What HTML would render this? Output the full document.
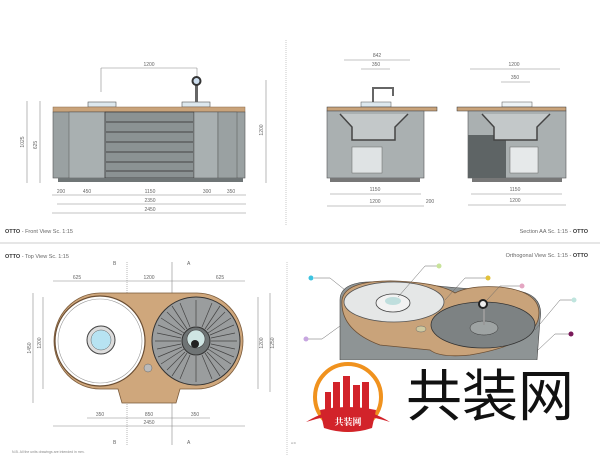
<!DOCTYPE html>
<html><head><meta charset="utf-8"><style>
html,body{margin:0;padding:0;background:#fff;}
svg{display:block;font-family:"Liberation Sans","Noto Sans CJK SC",sans-serif;}
.d{stroke:#888;stroke-width:0.6;fill:none}
.t{font-size:5px;fill:#666}
</style></head><body>
<svg width="600" height="460" viewBox="0 0 600 460" xmlns="http://www.w3.org/2000/svg">
<rect width="600" height="460" fill="#fff"/>
<!-- separators -->
<line x1="0" y1="243" x2="600" y2="243" stroke="#bbb" stroke-width="0.8"/>
<line x1="286" y1="40" x2="286" y2="225" stroke="#bbb" stroke-width="0.8" stroke-dasharray="1,1"/>
<line x1="287" y1="262" x2="287" y2="455" stroke="#bbb" stroke-width="0.8" stroke-dasharray="1,1"/>

<!-- FRONT VIEW -->
<g>
<line class="d" x1="101" y1="68" x2="197" y2="68"/><line class="d" x1="101" y1="68" x2="101" y2="92"/><line class="d" x1="197" y1="68" x2="197" y2="92"/>
<text class="t" x="149" y="66" text-anchor="middle">1200</text>
<rect x="88" y="102" width="28" height="5" fill="#dde8ee" stroke="#555" stroke-width="0.6"/>
<rect x="182" y="102" width="28" height="5" fill="#dde8ee" stroke="#555" stroke-width="0.6"/>
<rect x="195" y="84" width="3" height="18" fill="#666"/>
<circle cx="196.5" cy="81" r="5" fill="#333"/><circle cx="196.5" cy="81" r="3" fill="#cde"/>
<rect x="53" y="107" width="192" height="5" fill="#c9a37a" stroke="#8a6a4a" stroke-width="0.5"/>
<rect x="53" y="112" width="192" height="66" fill="#9aa1a2" stroke="#555" stroke-width="0.6"/>
<rect x="69" y="112" width="36" height="66" fill="#a9b0b1" stroke="#555" stroke-width="0.5"/>
<rect x="105" y="112" width="89" height="66" fill="#8b9293" stroke="#333" stroke-width="0.7"/>
<g stroke="#444" stroke-width="1">
<line x1="106" y1="122" x2="193" y2="122"/><line x1="106" y1="132" x2="193" y2="132"/><line x1="106" y1="142" x2="193" y2="142"/><line x1="106" y1="152" x2="193" y2="152"/><line x1="106" y1="162" x2="193" y2="162"/><line x1="106" y1="171" x2="193" y2="171"/></g>
<rect x="194" y="112" width="24" height="66" fill="#a9b0b1" stroke="#555" stroke-width="0.5"/>
<rect x="218" y="112" width="19" height="66" fill="#9aa1a2" stroke="#555" stroke-width="0.5"/>
<rect x="58" y="178" width="185" height="4" fill="#6f7576"/>
<line class="d" x1="27" y1="101" x2="27" y2="183"/><text class="t" transform="translate(24,142) rotate(-90)" text-anchor="middle">1025</text>
<line class="d" x1="40" y1="101" x2="40" y2="183"/><text class="t" transform="translate(37,145) rotate(-90)" text-anchor="middle">625</text>
<line class="d" x1="266" y1="80" x2="266" y2="183"/><text class="t" transform="translate(263,130) rotate(-90)" text-anchor="middle">1200</text>
<line class="d" x1="52" y1="195" x2="246" y2="195"/>
<text class="t" x="61" y="193" text-anchor="middle">200</text><text class="t" x="87" y="193" text-anchor="middle">450</text><text class="t" x="150" y="193" text-anchor="middle">1150</text><text class="t" x="207" y="193" text-anchor="middle">300</text><text class="t" x="231" y="193" text-anchor="middle">350</text>
<line class="d" x1="57" y1="204" x2="246" y2="204"/><text class="t" x="150" y="202" text-anchor="middle">2350</text>
<line class="d" x1="52" y1="213" x2="246" y2="213"/><text class="t" x="150" y="211" text-anchor="middle">2450</text>
<text x="5" y="233" font-size="5.5" fill="#666"><tspan font-weight="bold" fill="#333">OTTO</tspan> - Front View Sc. 1:15</text>
</g>

<!-- SECTION AA -->
<g>
<line class="d" x1="344" y1="60" x2="410" y2="60"/><text class="t" x="377" y="57" text-anchor="middle">842</text>
<line class="d" x1="361" y1="69" x2="390" y2="69"/><text class="t" x="376" y="66" text-anchor="middle">350</text>
<line class="d" x1="470" y1="69" x2="560" y2="69"/><text class="t" x="514" y="66" text-anchor="middle">1200</text>
<line class="d" x1="501" y1="82" x2="530" y2="82"/><text class="t" x="515" y="79" text-anchor="middle">350</text>
<path d="M373 106 V88 H393 V96" stroke="#666" stroke-width="2" fill="none"/>
<rect x="361" y="102" width="30" height="5" fill="#dde8ee" stroke="#555" stroke-width="0.5"/>
<rect x="502" y="102" width="30" height="5" fill="#eef3f5" stroke="#555" stroke-width="0.5"/>
<rect x="327" y="107" width="110" height="4" fill="#c9a37a" stroke="#333" stroke-width="0.5"/>
<rect x="327" y="111" width="97" height="67" fill="#aab0b1" stroke="#555" stroke-width="0.6"/>
<path d="M340 114 L352 127 V140 H395 V127 L408 114" stroke="#444" stroke-width="1.5" fill="#c3c8c9"/>
<rect x="352" y="147" width="30" height="26" fill="#dfe3e4" stroke="#666" stroke-width="0.5"/>
<rect x="330" y="178" width="90" height="4" fill="#777"/>
<rect x="457" y="107" width="109" height="4" fill="#c9a37a" stroke="#333" stroke-width="0.5"/>
<rect x="468" y="111" width="98" height="67" fill="#aab0b1" stroke="#555" stroke-width="0.6"/>
<rect x="468" y="135" width="38" height="43" fill="#5e6465"/>
<path d="M482 114 L494 127 V140 H537 V127 L550 114" stroke="#444" stroke-width="1.5" fill="#c3c8c9"/>
<rect x="510" y="147" width="28" height="26" fill="#e6e9ea" stroke="#666" stroke-width="0.5"/>
<rect x="472" y="178" width="90" height="4" fill="#777"/>
<line class="d" x1="330" y1="194" x2="421" y2="194"/><text class="t" x="375" y="191" text-anchor="middle">1150</text>
<line class="d" x1="327" y1="206" x2="424" y2="206"/><text class="t" x="375" y="203" text-anchor="middle">1200</text><text class="t" x="430" y="203" text-anchor="middle">200</text>
<line class="d" x1="471" y1="194" x2="562" y2="194"/><text class="t" x="515" y="191" text-anchor="middle">1150</text>
<line class="d" x1="468" y1="205" x2="566" y2="205"/><text class="t" x="515" y="202" text-anchor="middle">1200</text>
<text x="588" y="233" font-size="5.5" fill="#666" text-anchor="end">Section AA Sc. 1:15 - <tspan font-weight="bold" fill="#333">OTTO</tspan></text>
</g>

<!-- TOP VIEW -->
<g>
<text x="5" y="258" font-size="5.5" fill="#666"><tspan font-weight="bold" fill="#333">OTTO</tspan> - Top View Sc. 1:15</text>
<line class="d" x1="127" y1="262" x2="127" y2="445" stroke-dasharray="1,1"/>
<line class="d" x1="172" y1="262" x2="172" y2="445"/>
<text class="t" x="113" y="265">B</text><text class="t" x="187" y="265">A</text>
<text class="t" x="113" y="444">B</text><text class="t" x="187" y="444">A</text>
<line class="d" x1="53" y1="281" x2="245" y2="281"/>
<text class="t" x="77" y="279" text-anchor="middle">625</text><text class="t" x="149" y="279" text-anchor="middle">1200</text><text class="t" x="220" y="279" text-anchor="middle">625</text>
<path d="M100 293 H197 A46 48 0 0 1 197 389 H180 L176 403 H122 L118 389 H100 A46 48 0 0 1 100 293 Z" fill="#cfa77c" stroke="#7a5a3a" stroke-width="0.8"/>
<circle cx="100" cy="341" r="45" fill="#fff" stroke="#6b4e33" stroke-width="1.2"/>
<circle cx="100" cy="341" r="42" fill="none" stroke="#999" stroke-width="0.6"/>
<circle cx="101" cy="340" r="14" fill="#ddd" stroke="#444" stroke-width="1"/>
<circle cx="101" cy="340" r="10" fill="#b7e3f2" stroke="#666" stroke-width="0.5"/>
<circle cx="196" cy="341" r="44" fill="#9a9d9e" stroke="#333" stroke-width="1"/>
<g stroke="#444" stroke-width="0.7" id="sp">
<path d="M196 300V326M196 356V382M155 341H181M211 341H237M167 312L185 330M207 352L225 370M225 312L207 330M185 352L167 370M180 303L190 327M202 355L212 379M212 303L202 327M190 355L180 379M158 325L182 335M210 347L234 357M234 325L210 335M182 347L158 357M172 306L187 329M205 353L220 376M220 306L205 329M187 353L172 376M157 333L181 338M211 344L235 349M235 333L211 338M181 344L157 349M161 318L184 333M208 349L231 364M231 318L208 333M184 349L161 364"/>
</g>
<circle cx="196" cy="341" r="14" fill="#6f7475" stroke="#333"/>
<circle cx="196" cy="339" r="9" fill="#cfe5e3" stroke="#444" stroke-width="0.6"/>
<circle cx="195" cy="344" r="4" fill="#222"/>
<circle cx="148" cy="368" r="4" fill="#bbb" stroke="#666" stroke-width="0.5"/>
<line class="d" x1="33" y1="293" x2="33" y2="403"/><text class="t" transform="translate(31,348) rotate(-90)" text-anchor="middle">1450</text>
<line class="d" x1="43" y1="297" x2="43" y2="389"/><text class="t" transform="translate(41,343) rotate(-90)" text-anchor="middle">1200</text>
<line class="d" x1="258" y1="297" x2="258" y2="389"/><text class="t" transform="translate(263,343) rotate(-90)" text-anchor="middle">1200</text>
<line class="d" x1="270" y1="293" x2="270" y2="392"/><text class="t" transform="translate(274,343) rotate(-90)" text-anchor="middle">1250</text>
<line class="d" x1="87" y1="418" x2="210" y2="418"/>
<text class="t" x="100" y="416" text-anchor="middle">350</text><text class="t" x="149" y="416" text-anchor="middle">850</text><text class="t" x="195" y="416" text-anchor="middle">350</text>
<line class="d" x1="53" y1="426" x2="245" y2="426"/><text class="t" x="149" y="424" text-anchor="middle">2450</text>
<text x="12" y="453" font-size="3.5" fill="#888">N.B. All the units drawings are intended in mm.</text>
</g>

<!-- ORTHOGONAL VIEW -->
<g>
<text x="588" y="257" font-size="5.5" fill="#666" text-anchor="end">Orthogonal View Sc. 1:15 - <tspan font-weight="bold" fill="#333">OTTO</tspan></text>
<path d="M340 300 Q340 280 380 282 L420 284 Q470 290 510 290 Q545 292 540 320 L537 360 H340 Z" fill="#8e9495" stroke="#444" stroke-width="0.6"/>
<path d="M342 300 Q345 280 395 281 Q440 283 455 293 Q470 285 500 287 Q545 292 538 320 Q530 345 470 355 Q440 358 430 350 L380 345 Q340 330 342 300 Z" fill="#c9a37a" stroke="#6b4e33" stroke-width="0.8"/>
<ellipse cx="394" cy="302" rx="50" ry="20" fill="#e5e7e7" stroke="#555" stroke-width="0.8"/>
<ellipse cx="393" cy="303" rx="17" ry="9" fill="#f2f2f2" stroke="#444" stroke-width="0.8"/>
<ellipse cx="393" cy="301" rx="8" ry="4" fill="#bfdedd"/>
<ellipse cx="483" cy="325" rx="52" ry="23" fill="#7d8283" stroke="#333" stroke-width="0.8"/>
<ellipse cx="484" cy="328" rx="14" ry="7" fill="#9ea3a3" stroke="#333" stroke-width="0.5"/>
<rect x="483" y="307" width="2" height="18" fill="#999"/>
<circle cx="483" cy="304" r="5" fill="#222"/><circle cx="483" cy="304" r="3" fill="#eee"/>
<ellipse cx="421" cy="329" rx="5" ry="3" fill="#cfc9a0" stroke="#666" stroke-width="0.5"/>
<g stroke="#666" stroke-width="0.5" fill="none">
<path d="M314 278H330L345 290"/><path d="M440 266H425L398 297"/><path d="M488 278H465L445 300"/><path d="M522 286H500L487 300"/><path d="M574 300H560L535 330"/><path d="M571 334H555L538 350"/><path d="M306 339H322L340 326"/></g>
<circle cx="311" cy="278" r="2.5" fill="#3cc3e0"/><circle cx="439" cy="266" r="2.5" fill="#c8e39a"/><circle cx="488" cy="278" r="2.5" fill="#e2c13a"/><circle cx="522" cy="286" r="2.5" fill="#e4a6c2"/><circle cx="574" cy="300" r="2.5" fill="#bfe5de"/><circle cx="571" cy="334" r="2.5" fill="#7a1a5a"/><circle cx="306" cy="339" r="2.5" fill="#c7a6e0"/>
</g>

<!-- WATERMARK -->
<rect x="300" y="360" width="300" height="100" fill="#fff"/>
<circle cx="348" cy="397" r="33" fill="none" stroke="#f0921e" stroke-width="4"/>
<g fill="#d2232a">
<rect x="325" y="392" width="6" height="22"/><rect x="333" y="382" width="7" height="32"/><rect x="343" y="376" width="7" height="38"/><rect x="353" y="385" width="7" height="29"/><rect x="362" y="382" width="7" height="32"/>
<path d="M306 422 Q348 396 390 422 Q348 408 306 422 Z"/>
<path d="M320 410 Q348 404 376 410 L372 428 Q348 436 324 428 Z"/>
</g>
<text x="348" y="425" font-size="9" fill="#fff" text-anchor="middle" font-family="'Noto Serif CJK SC','Noto Sans CJK SC',serif" font-weight="bold">共装网</text>
<text x="490" y="416" font-size="56" fill="#111" text-anchor="middle" font-family="'Noto Sans CJK SC','WenQuanYi Zen Hei',sans-serif">共装网</text>
<text x="291" y="444" font-size="3" fill="#888">A D</text>
</svg>
</body></html>
